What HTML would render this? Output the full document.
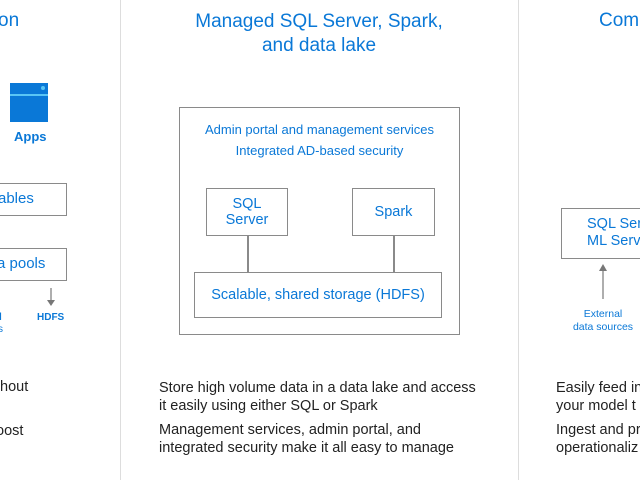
<!DOCTYPE html>
<html><head><meta charset="utf-8"><style>
body{margin:0;width:640px;height:480px;overflow:hidden;background:#fff;font-family:"Liberation Sans",sans-serif;position:relative}
.a{position:absolute;white-space:nowrap}
.b{color:#0a78d7}
.box{position:absolute;border:1.5px solid #8a8a8a;box-sizing:border-box}
.t{color:#222;font-size:14.5px;line-height:18px}
.c{display:flex;align-items:center;justify-content:center;text-align:center}
</style></head><body>
<div class="a" style="left:120px;top:0;width:1px;height:480px;background:#ddd"></div>
<div class="a" style="left:518px;top:0;width:1px;height:480px;background:#ddd"></div>

<!-- left -->
<div class="a b" style="left:-2px;top:10px;font-size:19px">on</div>
<div class="a" style="left:10px;top:83px;width:38px;height:39px;background:#0a78d7"></div>
<div class="a" style="left:10px;top:94px;width:38px;height:1.5px;background:#59c5f5"></div>
<div class="a" style="left:41px;top:86px;width:4px;height:4px;border-radius:50%;background:#59c5f5"></div>
<div class="a b" style="left:14px;top:129px;font-size:13px;font-weight:bold">Apps</div>
<div class="box" style="left:-5px;top:183px;width:72px;height:33px"></div>
<div class="a b" style="left:-2px;top:190px;font-size:15px">ables</div>
<div class="box" style="left:-5px;top:248px;width:72px;height:33px"></div>
<div class="a b" style="left:-3px;top:255px;font-size:15px">a pools</div>
<svg class="a" style="left:44px;top:288px" width="14" height="20"><line x1="7" y1="0" x2="7" y2="14" stroke="#777" stroke-width="1.2"/><path d="M3 12 L7 18 L11 12Z" fill="#777"/></svg>
<div class="a b" style="left:37px;top:312px;font-size:10px;font-weight:bold">HDFS</div>
<div class="a b" style="left:-1px;top:312px;font-size:10px;font-weight:bold">l</div>
<div class="a b" style="left:-2px;top:324px;font-size:10px">s</div>
<div class="a t" style="left:-4px;top:378px">thout</div>
<div class="a t" style="left:-4px;top:422px">oost</div>

<!-- middle -->
<div class="a b c" style="left:120px;top:10px;width:398px;font-size:19px;line-height:24px;flex-direction:column">Managed SQL Server, Spark,<br>and data lake</div>
<div class="box" style="left:179px;top:107px;width:281px;height:228px"></div>
<div class="a b c" style="left:179px;top:122px;width:281px;font-size:13px">Admin portal and management services</div>
<div class="a b c" style="left:179px;top:143px;width:281px;font-size:13px">Integrated AD-based security</div>
<div class="a" style="left:247px;top:235px;width:1.5px;height:38px;background:#8a8a8a"></div>
<div class="a" style="left:393px;top:235px;width:1.5px;height:38px;background:#8a8a8a"></div>
<div class="box b c" style="left:206px;top:188px;width:82px;height:48px;font-size:14.5px;line-height:16px">SQL<br>Server</div>
<div class="box b c" style="left:352px;top:188px;width:83px;height:48px;font-size:14.5px">Spark</div>
<div class="box b c" style="left:194px;top:272px;width:248px;height:46px;font-size:14.5px">Scalable, shared storage (HDFS)</div>
<div class="a t" style="left:159px;top:379px">Store high volume data in a data lake and access<br>it easily using either SQL or Spark</div>
<div class="a t" style="left:159px;top:421px">Management services, admin portal, and<br>integrated security make it all easy to manage</div>

<!-- right -->
<div class="a b" style="left:599px;top:10px;font-size:19px">Com</div>
<div class="box" style="left:561px;top:208px;width:100px;height:51px"></div>
<div class="a b" style="left:587px;top:216px;font-size:14.5px;line-height:17px">SQL Ser<br>ML Serv</div>
<svg class="a" style="left:596px;top:263px" width="14" height="36"><line x1="7" y1="4" x2="7" y2="36" stroke="#777" stroke-width="1.2"/><path d="M3 8 L7 1 L11 8Z" fill="#777"/></svg>
<div class="a b c" style="left:563px;top:308px;width:80px;font-size:10.5px;line-height:13px;flex-direction:column">External<br>data sources</div>
<div class="a t" style="left:556px;top:379px">Easily feed in<br>your model t</div>
<div class="a t" style="left:556px;top:421px">Ingest and pr<br>operationaliz</div>
</body></html>
